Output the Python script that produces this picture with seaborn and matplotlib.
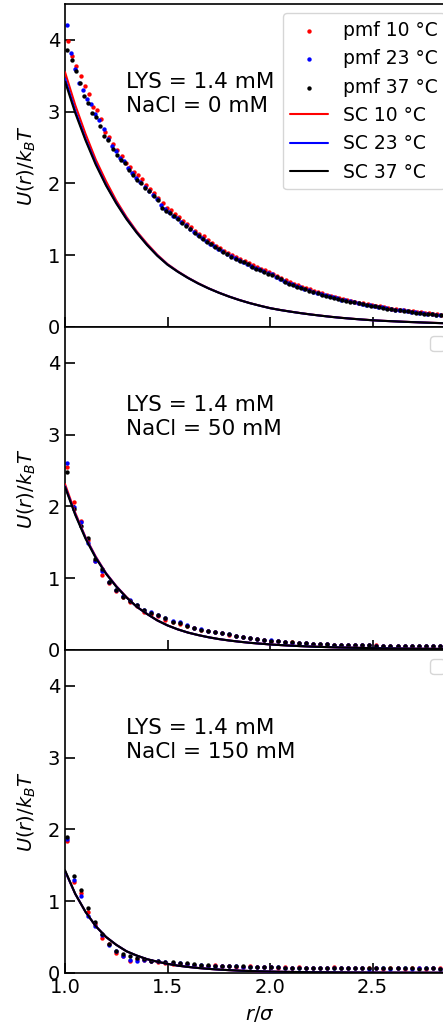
import numpy as np
import matplotlib
matplotlib.use("Agg")
import matplotlib.pyplot as plt
from matplotlib.legend import Legend
import seaborn as sns

sns.set_style("ticks", {"xtick.direction": "in", "ytick.direction": "in"})
plt.rcParams["font.family"] = ["DejaVu Sans"]
plt.rcParams["mathtext.fontset"] = "dejavusans"
for k in ["text.color", "axes.labelcolor", "xtick.color", "ytick.color"]:
    plt.rcParams[k] = "black"

# ---------------- data ----------------
temps = ["10 °C", "23 °C", "37 °C"]
colors = ["red", "blue", "black"]
nacl_labels = ["NaCl = 0 mM", "NaCl = 50 mM", "NaCl = 150 mM"]
lys_label = "LYS = 1.4 mM"

# x grids (r/sigma)
r_fine_10 = np.round(1.016 + 0.02 * np.arange(95), 3)   # pmf, NaCl 0 mM
r_fine_23 = np.round(1.008 + 0.02 * np.arange(95), 3)
r_fine_37 = np.round(1.012 + 0.02 * np.arange(95), 3)
r_coarse = np.round(1.01 + 0.0343 * np.arange(56), 4)   # pmf, NaCl 50/150 mM
r_line = np.round(np.arange(1.0, 2.901, 0.05), 2)       # SC curves

# NaCl = 0 mM, pmf
pmf0_10 = [3.98, 3.78, 3.63, 3.50, 3.35, 3.24, 3.06, 3.02, 2.90, 2.72,
           2.64, 2.55, 2.46, 2.38, 2.28, 2.23, 2.16, 2.11, 2.06, 1.97,
           1.92, 1.86, 1.80, 1.73, 1.66, 1.63, 1.57, 1.53, 1.48, 1.44,
           1.39, 1.34, 1.30, 1.26, 1.21, 1.17, 1.13, 1.10, 1.06, 1.03,
           1.00, 0.97, 0.94, 0.92, 0.89, 0.86, 0.83, 0.81, 0.79, 0.76,
           0.74, 0.71, 0.68, 0.65, 0.62, 0.60, 0.58, 0.56, 0.54, 0.52,
           0.50, 0.48, 0.465, 0.45, 0.435, 0.415, 0.405, 0.385, 0.375, 0.36,
           0.35, 0.335, 0.325, 0.315, 0.305, 0.295, 0.285, 0.275, 0.265, 0.255,
           0.245, 0.24, 0.235, 0.225, 0.215, 0.205, 0.20, 0.195, 0.19, 0.185,
           0.175, 0.17, 0.165, 0.16, 0.155]
pmf0_23 = [4.21, 3.82, 3.60, 3.40, 3.30, 3.18, 3.10, 2.96, 2.88, 2.76,
           2.62, 2.52, 2.45, 2.36, 2.31, 2.21, 2.14, 2.08, 2.02, 1.95,
           1.90, 1.84, 1.78, 1.70, 1.64, 1.60, 1.55, 1.51, 1.46, 1.42,
           1.37, 1.32, 1.28, 1.24, 1.19, 1.16, 1.12, 1.08, 1.05, 1.02,
           0.99, 0.96, 0.93, 0.91, 0.88, 0.85, 0.82, 0.80, 0.78, 0.75,
           0.73, 0.70, 0.67, 0.64, 0.61, 0.59, 0.57, 0.55, 0.53, 0.51,
           0.49, 0.47, 0.46, 0.44, 0.43, 0.41, 0.40, 0.38, 0.37, 0.355,
           0.345, 0.33, 0.32, 0.31, 0.30, 0.29, 0.28, 0.27, 0.26, 0.25,
           0.24, 0.235, 0.23, 0.22, 0.21, 0.20, 0.195, 0.19, 0.185, 0.18,
           0.17, 0.165, 0.16, 0.155, 0.15]
pmf0_37 = [3.86, 3.72, 3.57, 3.40, 3.22, 3.12, 2.98, 2.92, 2.80, 2.66,
           2.60, 2.48, 2.40, 2.32, 2.28, 2.18, 2.12, 2.05, 2.00, 1.93,
           1.90, 1.83, 1.77, 1.66, 1.62, 1.59, 1.54, 1.50, 1.45, 1.41,
           1.36, 1.31, 1.27, 1.23, 1.18, 1.15, 1.11, 1.08, 1.04, 1.01,
           0.98, 0.95, 0.92, 0.90, 0.87, 0.84, 0.81, 0.79, 0.77, 0.74,
           0.72, 0.69, 0.66, 0.63, 0.60, 0.58, 0.56, 0.54, 0.52, 0.50,
           0.48, 0.465, 0.45, 0.435, 0.42, 0.405, 0.39, 0.375, 0.365, 0.35,
           0.34, 0.325, 0.315, 0.305, 0.295, 0.285, 0.275, 0.265, 0.255, 0.245,
           0.235, 0.23, 0.225, 0.215, 0.205, 0.195, 0.19, 0.185, 0.18, 0.175,
           0.165, 0.16, 0.155, 0.15, 0.145]

# NaCl = 0 mM, SC
sc0_10 = [3.55, 3.09, 2.69, 2.33, 2.03, 1.76, 1.53, 1.33, 1.16, 1.005,
          0.875, 0.774, 0.685, 0.607, 0.538, 0.477, 0.423, 0.375, 0.332, 0.295,
          0.261, 0.235, 0.212, 0.191, 0.172, 0.155, 0.139, 0.125, 0.113, 0.102,
          0.092, 0.084, 0.077, 0.071, 0.065, 0.060, 0.055, 0.050, 0.046]
sc0_23 = [3.46, 3.01, 2.62, 2.28, 1.98, 1.73, 1.51, 1.315, 1.145, 0.995,
          0.868, 0.769, 0.682, 0.604, 0.536, 0.476, 0.422, 0.374, 0.331, 0.294,
          0.260, 0.234, 0.211, 0.190, 0.171, 0.154, 0.138, 0.124, 0.112, 0.101,
          0.091, 0.083, 0.077, 0.070, 0.065, 0.059, 0.054, 0.050, 0.046]
sc0_37 = [3.42, 2.98, 2.60, 2.26, 1.97, 1.72, 1.50, 1.31, 1.14, 0.99,
          0.865, 0.767, 0.680, 0.603, 0.535, 0.475, 0.421, 0.373, 0.331, 0.294,
          0.260, 0.234, 0.211, 0.190, 0.171, 0.154, 0.138, 0.124, 0.112, 0.101,
          0.091, 0.083, 0.077, 0.070, 0.065, 0.059, 0.054, 0.050, 0.046]

# NaCl = 50 mM, pmf
pmf50_10 = [2.55, 2.06, 1.79, 1.53, 1.24, 1.045, 0.93, 0.82, 0.73, 0.67,
            0.61, 0.53, 0.50, 0.47, 0.42, 0.39, 0.36, 0.33, 0.30, 0.28,
            0.26, 0.25, 0.235, 0.21, 0.19, 0.175, 0.16, 0.15, 0.14, 0.125,
            0.116, 0.107, 0.102, 0.093, 0.088, 0.084, 0.079, 0.074, 0.070, 0.070,
            0.065, 0.063, 0.062, 0.060, 0.060, 0.058, 0.057, 0.058, 0.055, 0.054,
            0.055, 0.052, 0.055, 0.052, 0.051, 0.052]
pmf50_23 = [2.61, 1.99, 1.78, 1.49, 1.24, 1.10, 0.95, 0.84, 0.75, 0.69,
            0.62, 0.56, 0.52, 0.48, 0.44, 0.40, 0.39, 0.34, 0.31, 0.285,
            0.26, 0.245, 0.24, 0.22, 0.19, 0.175, 0.165, 0.15, 0.14, 0.13,
            0.12, 0.11, 0.10, 0.095, 0.09, 0.085, 0.08, 0.075, 0.071, 0.068,
            0.067, 0.065, 0.063, 0.061, 0.058, 0.058, 0.056, 0.055, 0.056, 0.055,
            0.053, 0.054, 0.052, 0.053, 0.052, 0.050]
pmf50_37 = [2.48, 1.96, 1.72, 1.555, 1.26, 1.12, 0.95, 0.84, 0.74, 0.68,
            0.62, 0.55, 0.51, 0.48, 0.45, 0.385, 0.37, 0.325, 0.30, 0.28,
            0.26, 0.25, 0.24, 0.215, 0.19, 0.175, 0.16, 0.153, 0.139, 0.127,
            0.117, 0.108, 0.102, 0.094, 0.089, 0.084, 0.079, 0.075, 0.072, 0.069,
            0.066, 0.064, 0.062, 0.060, 0.059, 0.058, 0.057, 0.056, 0.055, 0.055,
            0.054, 0.053, 0.052, 0.052, 0.051, 0.051]

# NaCl = 50 mM, SC
sc50_10 = [2.31, 1.91, 1.57, 1.30, 1.07, 0.89, 0.735, 0.60, 0.50, 0.41,
           0.34, 0.285, 0.24, 0.205, 0.175, 0.15, 0.13, 0.113, 0.098, 0.086,
           0.075, 0.066, 0.058, 0.051, 0.045, 0.040, 0.036, 0.032, 0.029, 0.026,
           0.023, 0.021, 0.019, 0.017, 0.015, 0.014, 0.013, 0.012, 0.011]
sc50_23 = [2.28, 1.89, 1.56, 1.29, 1.065, 0.885, 0.73, 0.60, 0.50, 0.41,
           0.34, 0.285, 0.24, 0.205, 0.175, 0.15, 0.13, 0.113, 0.098, 0.086,
           0.075, 0.066, 0.058, 0.051, 0.045, 0.040, 0.036, 0.032, 0.029, 0.026,
           0.023, 0.021, 0.019, 0.017, 0.015, 0.014, 0.013, 0.012, 0.011]
sc50_37 = [2.27, 1.88, 1.55, 1.28, 1.06, 0.88, 0.73, 0.60, 0.50, 0.41,
           0.34, 0.285, 0.24, 0.205, 0.175, 0.15, 0.13, 0.113, 0.098, 0.086,
           0.075, 0.066, 0.058, 0.051, 0.045, 0.040, 0.036, 0.032, 0.029, 0.026,
           0.023, 0.021, 0.019, 0.017, 0.015, 0.014, 0.013, 0.012, 0.011]

# NaCl = 150 mM, pmf
pmf150_10 = [1.84, 1.27, 1.11, 0.85, 0.68, 0.48, 0.40, 0.28, 0.24, 0.17,
             0.19, 0.18, 0.16, 0.15, 0.14, 0.12, 0.12, 0.12, 0.11, 0.10,
             0.10, 0.11, 0.09, 0.09, 0.085, 0.08, 0.09, 0.08, 0.075, 0.08,
             0.07, 0.075, 0.07, 0.08, 0.065, 0.07, 0.065, 0.06, 0.085, 0.065,
             0.06, 0.06, 0.07, 0.06, 0.06, 0.058, 0.065, 0.06, 0.058, 0.07,
             0.06, 0.058, 0.07, 0.06, 0.06, 0.06]
pmf150_23 = [1.87, 1.30, 1.07, 0.79, 0.65, 0.53, 0.39, 0.30, 0.23, 0.18,
             0.17, 0.18, 0.17, 0.16, 0.15, 0.13, 0.13, 0.12, 0.11, 0.115,
             0.10, 0.095, 0.10, 0.09, 0.09, 0.085, 0.08, 0.08, 0.08, 0.075,
             0.075, 0.07, 0.07, 0.065, 0.07, 0.065, 0.065, 0.065, 0.06, 0.06,
             0.065, 0.06, 0.06, 0.058, 0.06, 0.06, 0.058, 0.06, 0.06, 0.058,
             0.06, 0.065, 0.06, 0.058, 0.06, 0.058]
pmf150_37 = [1.895, 1.35, 1.15, 0.905, 0.71, 0.54, 0.40, 0.31, 0.26, 0.23,
             0.20, 0.19, 0.17, 0.165, 0.15, 0.15, 0.13, 0.13, 0.12, 0.11,
             0.11, 0.10, 0.10, 0.095, 0.09, 0.09, 0.085, 0.08, 0.08, 0.075,
             0.075, 0.07, 0.072, 0.07, 0.068, 0.066, 0.066, 0.065, 0.064, 0.064,
             0.063, 0.062, 0.062, 0.062, 0.061, 0.06, 0.06, 0.06, 0.06, 0.06,
             0.059, 0.06, 0.06, 0.059, 0.059, 0.06]

# NaCl = 150 mM, SC
sc150_10 = [1.42, 1.10, 0.85, 0.65, 0.50, 0.39, 0.30, 0.24, 0.19, 0.155,
            0.125, 0.10, 0.082, 0.067, 0.055, 0.045, 0.037, 0.030, 0.025, 0.021,
            0.017, 0.014, 0.012, 0.010, 0.008, 0.007, 0.006, 0.005, 0.004, 0.0035,
            0.003, 0.0025, 0.002, 0.002, 0.0015, 0.0015, 0.001, 0.001, 0.001]
sc150_23 = [1.42, 1.10, 0.85, 0.65, 0.50, 0.39, 0.30, 0.24, 0.19, 0.155,
            0.125, 0.10, 0.082, 0.067, 0.055, 0.045, 0.037, 0.030, 0.025, 0.021,
            0.017, 0.014, 0.012, 0.010, 0.008, 0.007, 0.006, 0.005, 0.004, 0.0035,
            0.003, 0.0025, 0.002, 0.002, 0.0015, 0.0015, 0.001, 0.001, 0.001]
sc150_37 = [1.43, 1.10, 0.85, 0.65, 0.50, 0.39, 0.30, 0.24, 0.19, 0.155,
            0.125, 0.10, 0.082, 0.067, 0.055, 0.045, 0.037, 0.030, 0.025, 0.021,
            0.017, 0.014, 0.012, 0.010, 0.008, 0.007, 0.006, 0.005, 0.004, 0.0035,
            0.003, 0.0025, 0.002, 0.002, 0.0015, 0.0015, 0.001, 0.001, 0.001]

panels = [
    ([r_fine_10, r_fine_23, r_fine_37], [pmf0_10, pmf0_23, pmf0_37],
     [sc0_10, sc0_23, sc0_37]),
    ([r_coarse] * 3, [pmf50_10, pmf50_23, pmf50_37],
     [sc50_10, sc50_23, sc50_37]),
    ([r_coarse] * 3, [pmf150_10, pmf150_23, pmf150_37],
     [sc150_10, sc150_23, sc150_37]),
]

# ---------------- figure ----------------
W, H = 443, 1029
fig = plt.figure(figsize=(W / 100, H / 100), dpi=100)
left_px, px_per_unit = 65, 205
xlim = (1.0, 2.9)
ax_w = (xlim[1] - xlim[0]) * px_per_unit
tops = [4, 327, 650]
ph = 322.8

for i, (rxs, pmfs, scs) in enumerate(panels):
    top = tops[i]
    ax = fig.add_axes([left_px / W, 1 - (top + ph) / H, ax_w / W, ph / H])
    for rx, vals, c, t in zip(rxs, pmfs, colors, temps):
        sns.scatterplot(x=rx, y=vals, color=c, s=10, linewidth=0, ax=ax,
                        label=f"pmf {t}", zorder=2)
    for vals, c, t in zip(scs, colors, temps):
        sns.lineplot(x=r_line, y=vals, color=c, lw=1.5, ax=ax,
                     label=f"SC {t}", zorder=3)
    ax.set_xlim(*xlim)
    ax.set_ylim(0, 4.5)
    ax.set_yticks([0, 1, 2, 3, 4])
    ax.set_xticks([1.0, 1.5, 2.0, 2.5])
    ax.tick_params(direction="in", length=7, width=1.2, labelsize=14,
                   top=False, right=False, colors="black")
    for sp in ax.spines.values():
        sp.set_linewidth(1.2)
        sp.set_color("black")
    ax.set_ylabel(r"$U(r)/k_BT$", fontsize=14, labelpad=7)
    ax.text(1.3, 3.0, f"{lys_label}\n{nacl_labels[i]}", fontsize=15.5,
            color="black")
    old = ax.get_legend()
    if old is not None:
        old.remove()
    if i == 0:
        ax.legend(loc="upper right", fontsize=13.5, markerscale=1.0,
                  frameon=True)
    else:
        empty = Legend(ax, [], [], loc="upper right", fontsize=13.5,
                       frameon=True)
        ax.add_artist(empty)
    if i < 2:
        ax.tick_params(labelbottom=False)
        ax.set_xlabel("")
    else:
        ax.set_xlabel(r"$r/\sigma$", fontsize=14, labelpad=5)

fig.savefig("out.png", dpi=100)
